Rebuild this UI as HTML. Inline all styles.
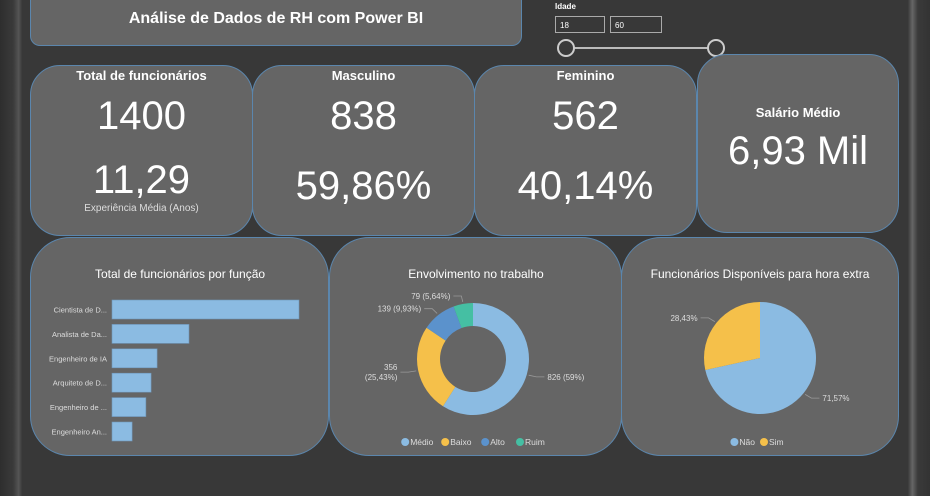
<!DOCTYPE html>
<html><head><meta charset="utf-8">
<style>
body{margin:0;width:930px;height:496px;overflow:hidden;background:#383838;font-family:"Liberation Sans",sans-serif;position:relative}
.strip{position:absolute;top:0;height:496px}
.card{position:absolute;background:#656565;border:1px solid #5b86ad;box-sizing:border-box;color:#fff;text-align:center}
.t{position:absolute;left:0;right:0;font-weight:bold;font-size:13px}
.big{position:absolute;left:0;right:0;font-size:40px}
svg text{font-family:"Liberation Sans",sans-serif}
</style></head><body>
<div class="strip" style="left:0;width:22px;background:linear-gradient(90deg,#2e2e2e,#3a3a3a 60%,#555 85%,#3a3a3a)"></div>
<div class="strip" style="left:908px;width:22px;background:linear-gradient(90deg,#3a3a3a,#666 20%,#3a3a3a 45%,#333)"></div>

<div class="card" style="left:30px;top:0;width:492px;height:46px;border-radius:0 0 10px 10px;border-top:none">
<div class="t" style="top:10px;font-size:16px">Análise de Dados de RH com Power BI</div></div>

<div style="position:absolute;left:555px;top:2px;width:180px;height:56px;color:#fff">
<div style="position:absolute;left:0;top:0;font-size:8px;font-weight:bold">Idade</div>
<div style="position:absolute;left:0;top:14px;width:50px;height:17px;border:1px solid #aaa;font-size:8px;line-height:17px;padding-left:4px;box-sizing:border-box">18</div>
<div style="position:absolute;left:55px;top:14px;width:52px;height:17px;border:1px solid #aaa;font-size:8px;line-height:17px;padding-left:4px;box-sizing:border-box">60</div>
<div style="position:absolute;left:10px;top:45px;width:150px;height:2px;background:#bbb"></div>
<div style="position:absolute;left:2px;top:37px;width:14px;height:14px;border:2px solid #ccc;border-radius:50%;background:#3a3a3a"></div>
<div style="position:absolute;left:152px;top:37px;width:14px;height:14px;border:2px solid #ccc;border-radius:50%;background:#3a3a3a"></div>
</div>

<div class="card" style="left:30px;top:65px;width:223px;height:171px;border-radius:30px">
<div class="t" style="top:2px">Total de funcionários</div>
<div class="big" style="top:28px">1400</div>
<div class="big" style="top:92px">11,29</div>
<div style="position:absolute;left:0;right:0;top:137px;font-size:10px;color:#ddd">Experiência Média (Anos)</div></div>

<div class="card" style="left:252px;top:65px;width:223px;height:171px;border-radius:30px">
<div class="t" style="top:2px">Masculino</div>
<div class="big" style="top:28px">838</div>
<div class="big" style="top:98px">59,86%</div></div>

<div class="card" style="left:474px;top:65px;width:223px;height:171px;border-radius:30px">
<div class="t" style="top:2px">Feminino</div>
<div class="big" style="top:28px">562</div>
<div class="big" style="top:98px">40,14%</div></div>

<div class="card" style="left:697px;top:54px;width:202px;height:179px;border-radius:30px">
<div class="t" style="top:50px">Salário Médio</div>
<div class="big" style="top:74px">6,93 Mil</div></div>

<div class="card" style="left:30px;top:237px;width:299px;height:219px;border-radius:40px">
<svg width="299" height="219" id="bars"></svg></div>
<div class="card" style="left:329px;top:237px;width:293px;height:219px;border-radius:40px">
<svg width="293" height="219" id="donut"></svg></div>
<div class="card" style="left:621px;top:237px;width:278px;height:219px;border-radius:40px">
<svg width="278" height="219" id="pie"></svg></div>

<script>
const roles=["Cientista de D...","Analista de Da...","Engenheiro de IA","Arquiteto de D...","Engenheiro de ...","Engenheiro An..."];
const roleCounts=[651,268,157,136,118,70];
const engCats=["Médio","Baixo","Alto","Ruim"];
const engVals=[826,356,139,79];
const engLabels=["826 (59%)","356|(25,43%)","139 (9,93%)","79 (5,64%)"];
const otCats=["Não","Sim"];
const otVals=[71.57,28.43];
const otLabels=["71,57%","28,43%"];
const NS="http://www.w3.org/2000/svg";
function mk(p,t,a,txt){const e=document.createElementNS(NS,t);for(const k in a)e.setAttribute(k,a[k]);if(txt!=null)e.textContent=txt;p.appendChild(e);return e;}
// bars
(function(){const s=document.getElementById('bars');
const tt=mk(s,'text',{x:149,y:40,fill:'#fff','font-size':12,'text-anchor':'middle'},'Total de funcionários por função');

const x0=81,xw=187,max=Math.max(...roleCounts);const y=i=>62+i*24.4;
roles.forEach((r,i)=>{const b=mk(s,'rect',{x:x0,y:y(i),width:roleCounts[i]/max*xw,height:19,fill:'#8bbbe2',stroke:'#6f95b8','stroke-width':0.6});

const l=mk(s,'text',{x:x0-5,y:y(i)+12.5,fill:'#ddd','font-size':7.5,'text-anchor':'end'},r);
});})();
// donut / pie helper
function arcs(s,cx,cy,R,r,vals,cols,names){const tot=vals.reduce((a,b)=>a+b,0);let a=0;const mids=[];
vals.forEach((v,i)=>{const a1=a+v/tot*2*Math.PI;const p=(ang,rr)=>[cx+rr*Math.sin(ang),cy-rr*Math.cos(ang)];
const [x1,y1]=p(a,R),[x2,y2]=p(a1,R),lg=(a1-a)>Math.PI?1:0;let d=`M${x1},${y1}A${R},${R} 0 ${lg} 1 ${x2},${y2}`;
if(r>0){const [x3,y3]=p(a1,r),[x4,y4]=p(a,r);d+=`L${x3},${y3}A${r},${r} 0 ${lg} 0 ${x4},${y4}Z`;}else d+=`L${cx},${cy}Z`;
const e=mk(s,'path',{d:d,fill:cols[i]});
mids.push((a+a1)/2);a=a1;});return mids;}
function legend(s,cx,y,cats,cols){let w=cats.reduce((t,c)=>t+c.length*5.2+14,0);let x=cx-w/2;
cats.forEach((c,i)=>{const g=mk(s,'g',{});
mk(g,'circle',{cx:x+4,cy:y-3,r:4,fill:cols[i]});mk(g,'text',{x:x+9,y:y,fill:'#ddd','font-size':8.5},c);x+=c.length*5.2+14;});}
function labels(s,cx,cy,R,mids,labs){mids.forEach((m,i)=>{const sx=cx+(R+2)*Math.sin(m),sy=cy-(R+2)*Math.cos(m);const right=Math.sin(m)>=0;
const ex=cx+(R+10)*Math.sin(m),ey=cy-(R+8)*Math.cos(m);const hx=ex+(right?8:-8);
mk(s,'path',{d:`M${sx},${sy}L${ex},${ey}L${hx},${ey}`,fill:'none',stroke:'#999','stroke-width':0.8});
const parts=labs[i].split('|');parts.forEach((p,j)=>{const t=mk(s,'text',{x:hx+(right?3:-3),y:ey+3+j*10-(parts.length-1)*5,fill:'#ddd','font-size':8,'text-anchor':right?'start':'end'},p);
});});}
(function(){const s=document.getElementById('donut');const t=mk(s,'text',{x:146,y:40,fill:'#fff','font-size':12,'text-anchor':'middle'},'Envolvimento no trabalho');

const cols=['#8bbbe2','#f5c04a','#5b92cc','#45bfa3'];const m=arcs(s,143,121,56,33,engVals,cols,engCats);labels(s,143,121,56,m,engLabels);legend(s,146,207,engCats,cols);})();
(function(){const s=document.getElementById('pie');const t=mk(s,'text',{x:138,y:40,fill:'#fff','font-size':12,'text-anchor':'middle'},'Funcionários Disponíveis para hora extra');

const cols=['#8bbbe2','#f5c04a'];const m=arcs(s,138,120,56,0,otVals,cols,otCats);labels(s,138,120,56,m,otLabels);legend(s,138,207,otCats,cols);})();
</script>
</body></html>
